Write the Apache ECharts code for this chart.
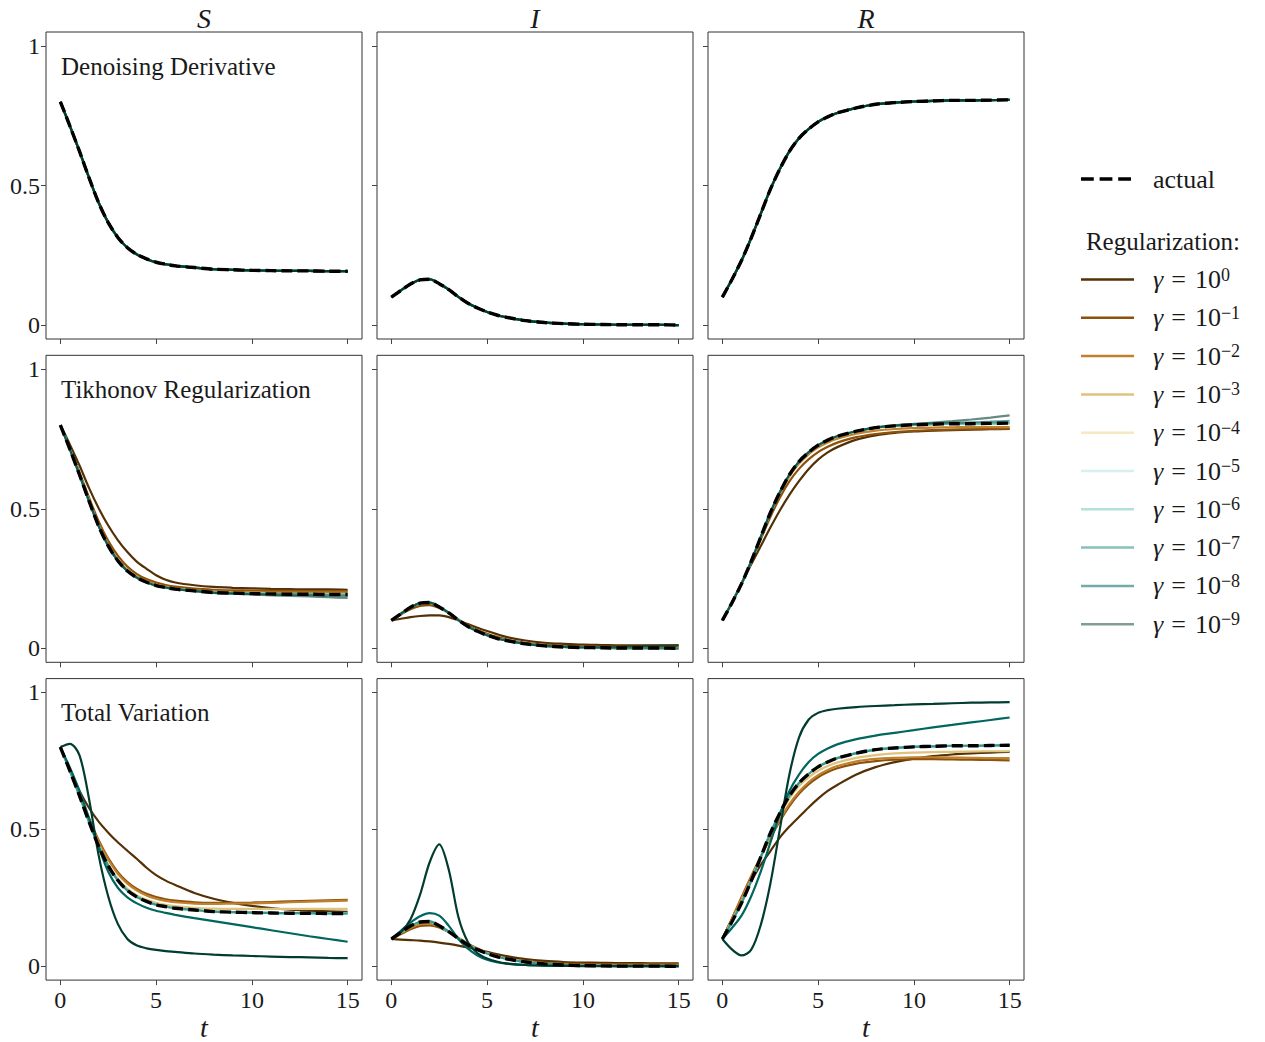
<!DOCTYPE html>
<html><head><meta charset="utf-8">
<script src="https://cdn.jsdelivr.net/npm/echarts@6/dist/echarts.min.js"></script>
<style>html,body{margin:0;padding:0;background:#fff}#chart{width:1265px;height:1042px}</style>
</head><body><div id="chart"></div>
<script>
// ---------- data ----------
const T = [0,0.5,1,1.5,2,2.5,3,3.5,4,4.5,5,5.5,6,7,8,9,10,11,12,13,14,15];
const X_TICKS = [0,5,10,15];
const Y_TICKS = [0,0.5,1];
const COLUMN_TITLES = ['S','I','R'];
const ROW_LABELS = ['Denoising Derivative','Tikhonov Regularization','Total Variation'];
const GAMMA_EXPONENTS = ['0','\u22121','\u22122','\u22123','\u22124','\u22125','\u22126','\u22127','\u22128','\u22129'];

const ACTUAL_S = [0.800,0.713,0.622,0.527,0.438,0.367,0.314,0.277,0.253,0.237,0.225,0.218,0.212,0.206,0.200,0.198,0.196,0.195,0.194,0.194,0.193,0.193];
const ACTUAL_I = [0.100,0.124,0.147,0.162,0.164,0.148,0.127,0.101,0.078,0.061,0.047,0.036,0.028,0.016,0.009,0.005,0.003,0.002,0.001,0.001,0.001,0.000];
const ACTUAL_R = [0.100,0.163,0.231,0.311,0.398,0.485,0.559,0.622,0.669,0.702,0.728,0.746,0.760,0.778,0.791,0.797,0.801,0.803,0.805,0.805,0.806,0.807];

const TIK_S_G0 = [0.800,0.730,0.655,0.574,0.502,0.440,0.388,0.345,0.310,0.285,0.262,0.246,0.236,0.226,0.220,0.217,0.215,0.213,0.212,0.211,0.211,0.210];
const TIK_S_G1 = [0.800,0.716,0.630,0.540,0.455,0.385,0.332,0.293,0.266,0.248,0.236,0.227,0.221,0.214,0.210,0.208,0.207,0.206,0.206,0.205,0.205,0.205];
const TIK_S_G2 = [0.800,0.714,0.624,0.531,0.443,0.372,0.319,0.281,0.257,0.241,0.229,0.221,0.215,0.208,0.204,0.202,0.201,0.200,0.200,0.200,0.200,0.200];
const TIK_S_G8 = [0.800,0.713,0.622,0.527,0.438,0.367,0.314,0.277,0.253,0.237,0.225,0.218,0.212,0.206,0.200,0.197,0.195,0.193,0.192,0.191,0.189,0.188];
const TIK_S_G9 = [0.800,0.713,0.622,0.527,0.438,0.367,0.314,0.277,0.253,0.237,0.225,0.218,0.212,0.205,0.199,0.196,0.193,0.190,0.188,0.186,0.183,0.181];

const TIK_I_G0 = [0.100,0.106,0.112,0.116,0.118,0.118,0.112,0.100,0.087,0.074,0.062,0.051,0.041,0.028,0.020,0.016,0.013,0.012,0.011,0.011,0.011,0.011];
const TIK_I_G1 = [0.100,0.121,0.140,0.152,0.155,0.145,0.127,0.104,0.083,0.066,0.052,0.041,0.032,0.020,0.013,0.009,0.007,0.006,0.006,0.006,0.006,0.006];
const TIK_I_G9 = [0.100,0.124,0.147,0.162,0.164,0.148,0.127,0.101,0.078,0.061,0.047,0.036,0.028,0.016,0.009,0.006,0.004,0.005,0.006,0.008,0.010,0.012];

const TIK_R_G0 = [0.100,0.165,0.233,0.300,0.366,0.432,0.494,0.550,0.599,0.642,0.676,0.702,0.721,0.748,0.763,0.772,0.777,0.780,0.782,0.784,0.785,0.786];
const TIK_R_G1 = [0.100,0.163,0.231,0.308,0.390,0.470,0.540,0.598,0.643,0.677,0.703,0.722,0.737,0.757,0.768,0.775,0.779,0.782,0.784,0.785,0.786,0.787];
const TIK_R_G2 = [0.100,0.163,0.231,0.310,0.396,0.481,0.554,0.616,0.662,0.695,0.720,0.738,0.751,0.769,0.780,0.786,0.789,0.791,0.792,0.793,0.793,0.793];
const TIK_R_G8 = [0.100,0.163,0.231,0.311,0.398,0.485,0.559,0.622,0.669,0.702,0.728,0.746,0.760,0.778,0.791,0.798,0.803,0.806,0.808,0.810,0.812,0.815];
const TIK_R_G9 = [0.100,0.163,0.231,0.311,0.398,0.485,0.559,0.622,0.669,0.702,0.728,0.746,0.760,0.778,0.792,0.799,0.804,0.809,0.814,0.820,0.827,0.835];

const TV_S_G0 = [0.800,0.718,0.640,0.578,0.528,0.488,0.453,0.422,0.392,0.360,0.333,0.313,0.297,0.268,0.247,0.232,0.221,0.213,0.207,0.203,0.201,0.199];
const TV_S_G1 = [0.800,0.716,0.628,0.540,0.460,0.395,0.344,0.308,0.283,0.265,0.253,0.245,0.240,0.234,0.232,0.232,0.233,0.235,0.237,0.239,0.241,0.243];
const TV_S_G2 = [0.800,0.715,0.626,0.536,0.455,0.390,0.338,0.302,0.277,0.259,0.247,0.239,0.234,0.229,0.228,0.229,0.230,0.232,0.234,0.236,0.238,0.240];
const TV_S_G3 = [0.800,0.714,0.623,0.529,0.441,0.371,0.319,0.283,0.259,0.243,0.232,0.225,0.220,0.214,0.211,0.210,0.210,0.210,0.210,0.210,0.210,0.210];
const TV_S_G8 = [0.800,0.725,0.640,0.540,0.435,0.345,0.287,0.252,0.230,0.214,0.203,0.195,0.188,0.176,0.165,0.154,0.143,0.132,0.121,0.110,0.100,0.090];
const TV_S_G9 = [0.800,0.812,0.770,0.610,0.405,0.255,0.155,0.100,0.076,0.066,0.060,0.056,0.053,0.047,0.043,0.040,0.038,0.036,0.034,0.033,0.031,0.030];

const TV_I_G0 = [0.100,0.098,0.096,0.094,0.091,0.087,0.082,0.076,0.069,0.061,0.053,0.045,0.038,0.027,0.020,0.016,0.014,0.013,0.012,0.012,0.011,0.011];
const TV_I_G1 = [0.100,0.118,0.136,0.148,0.150,0.142,0.125,0.104,0.083,0.065,0.050,0.039,0.030,0.019,0.013,0.010,0.009,0.008,0.008,0.008,0.008,0.008];
const TV_I_G2 = [0.100,0.121,0.141,0.154,0.156,0.146,0.127,0.104,0.082,0.064,0.049,0.038,0.029,0.018,0.011,0.008,0.006,0.005,0.005,0.005,0.005,0.005];
const TV_I_G8 = [0.100,0.130,0.160,0.183,0.194,0.185,0.148,0.100,0.065,0.040,0.024,0.015,0.010,0.005,0.003,0.002,0.002,0.002,0.002,0.002,0.002,0.002];
const TV_I_G9 = [0.100,0.125,0.172,0.262,0.380,0.445,0.352,0.180,0.088,0.048,0.029,0.018,0.011,0.005,0.003,0.002,0.001,0.001,0.001,0.001,0.001,0.001];

const TV_R_G0 = [0.100,0.172,0.245,0.310,0.370,0.420,0.470,0.510,0.545,0.580,0.612,0.640,0.662,0.700,0.727,0.745,0.758,0.767,0.773,0.777,0.780,0.783];
const TV_R_G1 = [0.100,0.175,0.252,0.328,0.400,0.468,0.530,0.585,0.630,0.664,0.690,0.709,0.723,0.740,0.749,0.754,0.756,0.756,0.755,0.754,0.753,0.752];
const TV_R_G2 = [0.100,0.173,0.248,0.324,0.398,0.470,0.535,0.592,0.637,0.672,0.698,0.717,0.731,0.748,0.757,0.761,0.763,0.763,0.762,0.761,0.760,0.760];
const TV_R_G3 = [0.100,0.165,0.235,0.313,0.398,0.482,0.553,0.613,0.658,0.690,0.714,0.731,0.744,0.761,0.771,0.777,0.780,0.782,0.783,0.784,0.785,0.785];
const TV_R_G8 = [0.100,0.140,0.185,0.255,0.345,0.450,0.555,0.640,0.700,0.745,0.775,0.795,0.810,0.829,0.842,0.852,0.862,0.872,0.881,0.890,0.899,0.908];
const TV_R_G9 = [0.100,0.062,0.040,0.060,0.150,0.300,0.500,0.700,0.835,0.900,0.925,0.935,0.940,0.946,0.950,0.953,0.956,0.958,0.960,0.962,0.963,0.964];

// which curve each gamma (10^0 ... 10^-9) follows, per panel
const DD_S = [ACTUAL_S,ACTUAL_S,ACTUAL_S,ACTUAL_S,ACTUAL_S,ACTUAL_S,ACTUAL_S,ACTUAL_S,ACTUAL_S,ACTUAL_S];
const DD_I = [ACTUAL_I,ACTUAL_I,ACTUAL_I,ACTUAL_I,ACTUAL_I,ACTUAL_I,ACTUAL_I,ACTUAL_I,ACTUAL_I,ACTUAL_I];
const DD_R = [ACTUAL_R,ACTUAL_R,ACTUAL_R,ACTUAL_R,ACTUAL_R,ACTUAL_R,ACTUAL_R,ACTUAL_R,ACTUAL_R,ACTUAL_R];
const TIK_S = [TIK_S_G0,TIK_S_G1,TIK_S_G2,ACTUAL_S,ACTUAL_S,ACTUAL_S,ACTUAL_S,ACTUAL_S,TIK_S_G8,TIK_S_G9];
const TIK_I = [TIK_I_G0,TIK_I_G1,ACTUAL_I,ACTUAL_I,ACTUAL_I,ACTUAL_I,ACTUAL_I,ACTUAL_I,ACTUAL_I,TIK_I_G9];
const TIK_R = [TIK_R_G0,TIK_R_G1,TIK_R_G2,ACTUAL_R,ACTUAL_R,ACTUAL_R,ACTUAL_R,ACTUAL_R,TIK_R_G8,TIK_R_G9];
const TV_S = [TV_S_G0,TV_S_G1,TV_S_G2,TV_S_G3,ACTUAL_S,ACTUAL_S,ACTUAL_S,ACTUAL_S,TV_S_G8,TV_S_G9];
const TV_I = [TV_I_G0,TV_I_G1,TV_I_G2,ACTUAL_I,ACTUAL_I,ACTUAL_I,ACTUAL_I,ACTUAL_I,TV_I_G8,TV_I_G9];
const TV_R = [TV_R_G0,TV_R_G1,TV_R_G2,TV_R_G3,ACTUAL_R,ACTUAL_R,ACTUAL_R,ACTUAL_R,TV_R_G8,TV_R_G9];
const ACTUALS = [ACTUAL_S, ACTUAL_I, ACTUAL_R];

// ---------- styling ----------
const PANELS = [[DD_S,DD_I,DD_R],[TIK_S,TIK_I,TIK_R],[TV_S,TV_I,TV_R]];
const COLORS = ['#543005','#8c510a','#bf812d','#dfc27d','#f6e8c3','#c7eae5','#80cdc1','#35978f','#01665e','#003c30'];
const LEGEND_OPACITY = [1,1,1,1,1,0.7,0.6,0.6,0.55,0.5];
const ROW_TEAL_OPACITY = [1, 0.6, 1];
const FONT = "'Liberation Serif','DejaVu Serif',serif";
const INK = '#1a1a1a';

const chart = echarts.init(document.getElementById('chart'), null, {renderer: 'svg'});
const grid = [], xAxis = [], yAxis = [], series = [], graphic = [];

for (let r = 0; r < 3; r++) {
  for (let c = 0; c < 3; c++) {
    const idx = r * 3 + c;
    grid.push({left: 46 + 331 * c, top: 32 + 323.3 * r, width: 316, height: 307,
      show: true, borderColor: '#333', borderWidth: 1, backgroundColor: 'transparent'});
    xAxis.push({type: 'value', gridIndex: idx, min: -0.75, max: 15.75, position: 'bottom',
      axisLine: {show: false, onZero: false}, splitLine: {show: false},
      axisTick: {show: true, inside: false, length: 5, customValues: X_TICKS, lineStyle: {color: '#444', width: 1}},
      axisLabel: {show: r === 2, customValues: X_TICKS, margin: 8, fontSize: 24, fontFamily: FONT, color: INK},
      name: r === 2 ? 't' : '', nameLocation: 'middle', nameGap: 30,
      nameTextStyle: {fontStyle: 'italic', fontSize: 28, fontFamily: FONT, color: INK}});
    yAxis.push({type: 'value', gridIndex: idx, min: -0.05, max: 1.05, position: 'left',
      axisLine: {show: false, onZero: false}, splitLine: {show: false},
      axisTick: {show: true, inside: false, length: 5, customValues: Y_TICKS, lineStyle: {color: '#444', width: 1}},
      axisLabel: {show: c === 0, customValues: Y_TICKS, margin: 6, fontSize: 24, fontFamily: FONT, color: INK}});
    const byGamma = PANELS[r][c];
    for (let k = 0; k < 10; k++) {
      const ys = byGamma[k];
      series.push({name: 'g' + k, type: 'line', xAxisIndex: idx, yAxisIndex: idx,
        data: T.map((t, i) => [t, ys[i]]), smooth: 0.3, symbol: 'none', silent: true,
        lineStyle: {color: COLORS[k], width: 2.2, opacity: k >= 5 ? ROW_TEAL_OPACITY[r] : 1},
        itemStyle: {color: COLORS[k]}, z: 2});
    }
    const act = ACTUALS[c];
    series.push({name: 'actual', type: 'line', xAxisIndex: idx, yAxisIndex: idx,
      data: T.map((t, i) => [t, act[i]]), smooth: 0.3, symbol: 'none', silent: true,
      lineStyle: {color: '#000', width: 3.4, type: [11, 5]}, itemStyle: {color: '#000'}, z: 3});
  }
}

// column titles, row labels
for (let c = 0; c < 3; c++) {
  graphic.push({type: 'text', x: 46 + 331 * c + 158, y: 18,
    style: {text: COLUMN_TITLES[c], fontSize: 28, fontStyle: 'italic', fontFamily: FONT, fill: INK,
      align: 'center', verticalAlign: 'middle', textAlign: 'center', textVerticalAlign: 'middle'}});
}
for (let r = 0; r < 3; r++) {
  graphic.push({type: 'text', x: 61, y: 66 + 323.3 * r,
    style: {text: ROW_LABELS[r], fontSize: 25, fontFamily: FONT, fill: INK,
      align: 'left', verticalAlign: 'middle', textAlign: 'left', textVerticalAlign: 'middle'}});
}
graphic.push({type: 'text', x: 1163, y: 241,
  style: {text: 'Regularization:', fontSize: 25, fontFamily: FONT, fill: INK,
    align: 'center', verticalAlign: 'middle', textAlign: 'center', textVerticalAlign: 'middle'}});

const richBase = {
  sp17: {width: 17, lineHeight: 28},
  sp14: {width: 14, lineHeight: 28},
  n: {fontSize: 26, fontFamily: FONT, color: INK, lineHeight: 28},
  eq: {fontSize: 26, fontFamily: FONT, color: INK, lineHeight: 28, padding: [0, 9, 0, 8]},
  g: {fontSize: 26, fontFamily: FONT, fontStyle: 'italic', color: INK, lineHeight: 28},
  s: {fontSize: 18, fontFamily: FONT, color: INK, lineHeight: 11, verticalAlign: 'top'}
};

const legend = [
  {data: [{name: 'actual', icon: 'path://M0,0H11V1H0Z M16,0H27V1H16Z M32,0H43V1H32Z', itemStyle: {color: '#000'}}],
   left: 1081, top: 165, orient: 'vertical', padding: 0, itemWidth: 50, itemHeight: 3.5,
   symbolKeepAspect: false, selectedMode: false,
   formatter: () => '{sp17|}{n|actual}',
   textStyle: {fontSize: 26, fontFamily: FONT, lineHeight: 28, rich: richBase}},
  {data: COLORS.map((col, k) => ({name: 'g' + k, icon: 'rect', itemStyle: {color: col, opacity: LEGEND_OPACITY[k], borderWidth: 0}})),
   left: 1081, top: 265.5, orient: 'vertical', padding: 0, itemWidth: 53, itemHeight: 2.5, itemGap: 10.3,
   symbolKeepAspect: false, selectedMode: false,
   formatter: name => '{sp14|}{g|\u03b3}{eq|=}{n|10}{s|' + GAMMA_EXPONENTS[+name.slice(1)] + '}',
   textStyle: {fontSize: 26, fontFamily: FONT, lineHeight: 28, rich: richBase}}
];

chart.setOption({animation: false, backgroundColor: '#fff', grid, xAxis, yAxis, series, legend, graphic});
</script></body></html>
